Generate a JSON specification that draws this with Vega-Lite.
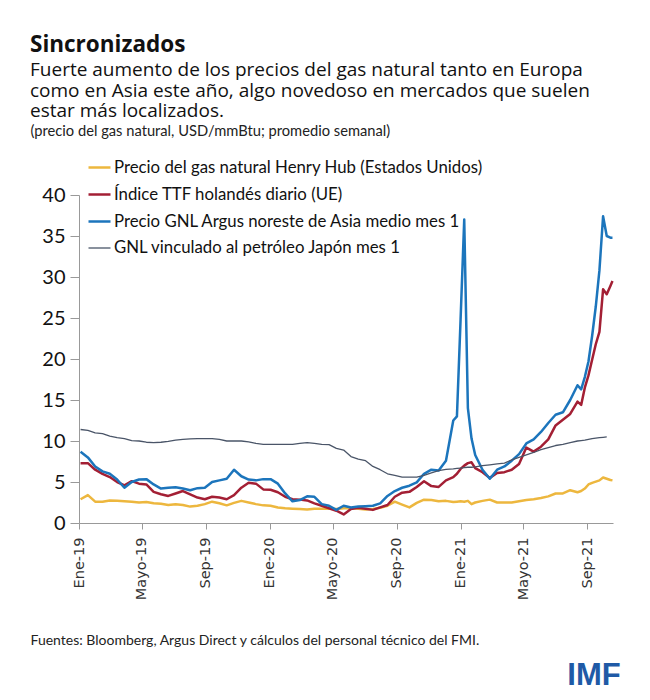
{
  "$schema": "https://vega.github.io/schema/vega-lite/v6.json",
  "background": "white",
  "padding": {"left": 30, "top": 33, "right": 20, "bottom": 5},
  "title": {
    "text": "Sincronizados",
    "subtitle": [
      "Fuerte aumento de los precios del gas natural tanto en Europa",
      "como en Asia este año, algo novedoso en mercados que suelen",
      "estar más localizados."
    ],
    "anchor": "start",
    "frame": "bounds",
    "font": "Open Sans",
    "fontSize": 22.5,
    "fontWeight": "bold",
    "color": "#111111",
    "subtitleFont": "Open Sans",
    "subtitleFontSize": 19,
    "subtitleColor": "#111111",
    "subtitleLineHeight": 20.5,
    "subtitlePadding": 5,
    "offset": 2
  },
  "config": {
    "view": {"stroke": null},
    "legend": {
      "orient": "none",
      "legendX": 8,
      "legendY": -40,
      "padding": 0,
      "symbolType": "stroke",
      "symbolSize": 484,
      "labelFont": "Lato",
      "labelFontSize": 16.8,
      "labelColor": "#111111",
      "labelOffset": 2,
      "labelLimit": 0,
      "rowPadding": 5,
      "title": null
    }
  },
  "vconcat": [
    {
      "width": 534,
      "height": 328,
      "title": {
        "text": "IMF",
        "orient": "bottom",
        "anchor": "end",
        "frame": "bounds",
        "font": "Liberation Sans",
        "fontWeight": "bold",
        "fontSize": 31,
        "color": "#1F5AA6",
        "offset": 14,
        "dx": 7
      },
      "data": {
        "values": [
          {"d": "2019-01-04", "hh": 2.9, "ttf": 7.3, "ar": 8.7, "jp": 11.4},
          {"d": "2019-01-18", "hh": 3.4, "ttf": 7.3, "ar": 8.0, "jp": 11.3},
          {"d": "2019-02-01", "hh": 2.6, "ttf": 6.5, "ar": 6.9, "jp": 11.0},
          {"d": "2019-02-15", "hh": 2.6, "ttf": 6.0, "ar": 6.3, "jp": 10.9},
          {"d": "2019-03-01", "hh": 2.75, "ttf": 5.6, "ar": 6.0, "jp": 10.6},
          {"d": "2019-03-15", "hh": 2.7, "ttf": 5.0, "ar": 5.3, "jp": 10.4},
          {"d": "2019-03-29", "hh": 2.65, "ttf": 4.6, "ar": 4.3, "jp": 10.3},
          {"d": "2019-04-12", "hh": 2.6, "ttf": 5.1, "ar": 5.0, "jp": 10.05},
          {"d": "2019-04-26", "hh": 2.5, "ttf": 4.8, "ar": 5.3, "jp": 10.0},
          {"d": "2019-05-10", "hh": 2.55, "ttf": 4.7, "ar": 5.35, "jp": 9.85},
          {"d": "2019-05-24", "hh": 2.4, "ttf": 3.8, "ar": 4.7, "jp": 9.8},
          {"d": "2019-06-07", "hh": 2.35, "ttf": 3.5, "ar": 4.2, "jp": 9.85},
          {"d": "2019-06-21", "hh": 2.2, "ttf": 3.3, "ar": 4.3, "jp": 9.95},
          {"d": "2019-07-05", "hh": 2.3, "ttf": 3.6, "ar": 4.35, "jp": 10.1},
          {"d": "2019-07-19", "hh": 2.2, "ttf": 3.9, "ar": 4.2, "jp": 10.2},
          {"d": "2019-08-02", "hh": 2.0, "ttf": 3.5, "ar": 4.0, "jp": 10.25},
          {"d": "2019-08-16", "hh": 2.1, "ttf": 3.1, "ar": 4.25, "jp": 10.3},
          {"d": "2019-08-30", "hh": 2.3, "ttf": 2.9, "ar": 4.3, "jp": 10.3},
          {"d": "2019-09-13", "hh": 2.6, "ttf": 3.2, "ar": 5.0, "jp": 10.3},
          {"d": "2019-09-27", "hh": 2.4, "ttf": 3.1, "ar": 5.2, "jp": 10.2},
          {"d": "2019-10-11", "hh": 2.15, "ttf": 2.9, "ar": 5.4, "jp": 10.0},
          {"d": "2019-10-25", "hh": 2.45, "ttf": 3.4, "ar": 6.5, "jp": 10.0},
          {"d": "2019-11-08", "hh": 2.7, "ttf": 4.3, "ar": 5.7, "jp": 10.0},
          {"d": "2019-11-22", "hh": 2.5, "ttf": 4.9, "ar": 5.3, "jp": 9.9},
          {"d": "2019-12-06", "hh": 2.3, "ttf": 4.8, "ar": 5.2, "jp": 9.7},
          {"d": "2019-12-20", "hh": 2.15, "ttf": 4.1, "ar": 5.35, "jp": 9.6},
          {"d": "2020-01-03", "hh": 2.1, "ttf": 4.05, "ar": 5.35, "jp": 9.6},
          {"d": "2020-01-17", "hh": 1.9, "ttf": 3.75, "ar": 4.8, "jp": 9.6},
          {"d": "2020-01-31", "hh": 1.8, "ttf": 3.2, "ar": 3.6, "jp": 9.6},
          {"d": "2020-02-14", "hh": 1.75, "ttf": 2.9, "ar": 2.65, "jp": 9.6},
          {"d": "2020-02-28", "hh": 1.7, "ttf": 2.85, "ar": 2.8, "jp": 9.7},
          {"d": "2020-03-13", "hh": 1.65, "ttf": 2.75, "ar": 3.25, "jp": 9.8},
          {"d": "2020-03-27", "hh": 1.75, "ttf": 2.4, "ar": 3.2, "jp": 9.7},
          {"d": "2020-04-10", "hh": 1.75, "ttf": 2.1, "ar": 2.3, "jp": 9.6},
          {"d": "2020-04-24", "hh": 1.75, "ttf": 1.8, "ar": 2.1, "jp": 9.55},
          {"d": "2020-05-08", "hh": 1.7, "ttf": 1.5, "ar": 1.6, "jp": 9.1},
          {"d": "2020-05-22", "hh": 1.8, "ttf": 1.05, "ar": 2.1, "jp": 8.9},
          {"d": "2020-06-05", "hh": 1.8, "ttf": 1.7, "ar": 1.9, "jp": 8.1},
          {"d": "2020-06-19", "hh": 1.75, "ttf": 1.85, "ar": 2.0, "jp": 7.8},
          {"d": "2020-07-03", "hh": 1.65, "ttf": 1.75, "ar": 2.05, "jp": 7.6},
          {"d": "2020-07-17", "hh": 1.7, "ttf": 1.6, "ar": 2.1, "jp": 6.9},
          {"d": "2020-07-31", "hh": 1.85, "ttf": 1.9, "ar": 2.4, "jp": 6.5},
          {"d": "2020-08-14", "hh": 2.1, "ttf": 2.2, "ar": 3.3, "jp": 6.0},
          {"d": "2020-08-28", "hh": 2.6, "ttf": 3.2, "ar": 3.9, "jp": 5.8},
          {"d": "2020-09-11", "hh": 2.25, "ttf": 3.7, "ar": 4.3, "jp": 5.6},
          {"d": "2020-09-25", "hh": 1.9, "ttf": 3.8, "ar": 4.55, "jp": 5.6},
          {"d": "2020-10-09", "hh": 2.45, "ttf": 4.4, "ar": 4.95, "jp": 5.6},
          {"d": "2020-10-23", "hh": 2.85, "ttf": 5.1, "ar": 6.0, "jp": 5.8},
          {"d": "2020-11-06", "hh": 2.8, "ttf": 4.5, "ar": 6.5, "jp": 6.1},
          {"d": "2020-11-20", "hh": 2.65, "ttf": 4.4, "ar": 6.4, "jp": 6.4},
          {"d": "2020-12-04", "hh": 2.7, "ttf": 5.2, "ar": 7.6, "jp": 6.55},
          {"d": "2020-12-18", "hh": 2.55, "ttf": 5.6, "ar": 12.5, "jp": 6.6},
          {"d": "2020-12-25", "hh": 2.6, "ttf": 6.0, "ar": 13.0, "jp": 6.65},
          {"d": "2021-01-01", "hh": 2.65, "ttf": 6.6, "ar": 24.8, "jp": 6.7},
          {"d": "2021-01-08", "hh": 2.6, "ttf": 7.0, "ar": 37.0, "jp": 6.75},
          {"d": "2021-01-15", "hh": 2.7, "ttf": 7.3, "ar": 14.0, "jp": 6.8},
          {"d": "2021-01-22", "hh": 2.3, "ttf": 7.4, "ar": 10.3, "jp": 6.8},
          {"d": "2021-01-29", "hh": 2.5, "ttf": 6.7, "ar": 8.3, "jp": 6.85},
          {"d": "2021-02-12", "hh": 2.7, "ttf": 6.2, "ar": 6.5, "jp": 7.0},
          {"d": "2021-02-26", "hh": 2.85, "ttf": 5.5, "ar": 5.4, "jp": 7.1},
          {"d": "2021-03-12", "hh": 2.5, "ttf": 6.1, "ar": 6.5, "jp": 7.2},
          {"d": "2021-03-26", "hh": 2.5, "ttf": 6.2, "ar": 6.9, "jp": 7.3},
          {"d": "2021-04-09", "hh": 2.5, "ttf": 6.5, "ar": 7.6, "jp": 7.7},
          {"d": "2021-04-23", "hh": 2.65, "ttf": 7.2, "ar": 8.4, "jp": 8.0},
          {"d": "2021-05-07", "hh": 2.8, "ttf": 9.2, "ar": 9.7, "jp": 8.3},
          {"d": "2021-05-21", "hh": 2.9, "ttf": 8.7, "ar": 10.2, "jp": 8.6},
          {"d": "2021-06-04", "hh": 3.05, "ttf": 9.3, "ar": 11.1, "jp": 8.95},
          {"d": "2021-06-18", "hh": 3.25, "ttf": 10.2, "ar": 12.2, "jp": 9.2},
          {"d": "2021-07-02", "hh": 3.6, "ttf": 11.9, "ar": 13.2, "jp": 9.45},
          {"d": "2021-07-16", "hh": 3.6, "ttf": 12.6, "ar": 13.5, "jp": 9.6},
          {"d": "2021-07-30", "hh": 4.0, "ttf": 13.3, "ar": 15.0, "jp": 9.8},
          {"d": "2021-08-13", "hh": 3.75, "ttf": 14.8, "ar": 16.8, "jp": 10.0},
          {"d": "2021-08-20", "hh": 3.9, "ttf": 14.4, "ar": 16.3, "jp": 10.05},
          {"d": "2021-08-27", "hh": 4.2, "ttf": 16.5, "ar": 17.8, "jp": 10.1},
          {"d": "2021-09-03", "hh": 4.7, "ttf": 18.0, "ar": 19.7, "jp": 10.2},
          {"d": "2021-09-10", "hh": 4.9, "ttf": 19.9, "ar": 22.8, "jp": 10.3},
          {"d": "2021-09-17", "hh": 5.05, "ttf": 21.8, "ar": 26.4, "jp": 10.35},
          {"d": "2021-09-24", "hh": 5.2, "ttf": 23.3, "ar": 30.8, "jp": 10.4},
          {"d": "2021-10-01", "hh": 5.55, "ttf": 28.5, "ar": 37.4, "jp": 10.45},
          {"d": "2021-10-08", "hh": 5.4, "ttf": 27.9, "ar": 35.0, "jp": 10.5},
          {"d": "2021-10-15", "hh": 5.25, "ttf": 28.9, "ar": 34.8, "jp": null},
          {"d": "2021-10-19", "hh": 5.2, "ttf": 29.5, "ar": 34.8, "jp": null}
        ]
      },
      "transform": [{"fold": ["hh", "ttf", "ar", "jp"], "as": ["serie", "valor"]}],
      "mark": {"type": "line", "strokeJoin": "round"},
      "encoding": {
        "x": {
          "field": "d",
          "type": "temporal",
          "scale": {"type": "utc", "domain": [{"year": 2019, "month": 1, "date": 1, "utc": true}, {"year": 2021, "month": 10, "date": 20, "utc": true}]},
          "axis": {
            "values": [
              {"year": 2019, "month": 1, "date": 1, "utc": true},
              {"year": 2019, "month": 5, "date": 1, "utc": true},
              {"year": 2019, "month": 9, "date": 1, "utc": true},
              {"year": 2020, "month": 1, "date": 1, "utc": true},
              {"year": 2020, "month": 5, "date": 1, "utc": true},
              {"year": 2020, "month": 9, "date": 1, "utc": true},
              {"year": 2021, "month": 1, "date": 1, "utc": true},
              {"year": 2021, "month": 5, "date": 1, "utc": true},
              {"year": 2021, "month": 9, "date": 1, "utc": true}
            ],
            "labelExpr": "(utcmonth(datum.value) == 0 ? 'Ene' : utcmonth(datum.value) == 4 ? 'Mayo' : 'Sep') + '-' + utcFormat(datum.value, '%y')",
            "labelAngle": 270,
            "labelFont": "DejaVu Sans",
            "labelFontSize": 14.5,
            "labelColor": "#333333",
            "labelPadding": 8,
            "tickSize": 6,
            "tickColor": "#999999",
            "domainColor": "#999999",
            "grid": false,
            "title": "Fuentes: Bloomberg, Argus Direct y cálculos del personal técnico del FMI.",
            "titleFont": "Lato",
            "titleFontSize": 14,
            "titleFontWeight": "normal",
            "titleColor": "#222222",
            "titleAlign": "left",
            "titleAnchor": "start",
            "titleBaseline": "alphabetic",
            "titleX": -49,
            "titleY": 121
          }
        },
        "y": {
          "field": "valor",
          "type": "quantitative",
          "scale": {"domain": [0, 40]},
          "axis": {
            "values": [0, 5, 10, 15, 20, 25, 30, 35, 40],
            "labelFont": "Lato",
            "labelFontSize": 20,
            "labelColor": "#111111",
            "labelPadding": 5,
            "tickSize": 9,
            "tickColor": "#999999",
            "domainColor": "#999999",
            "grid": false,
            "title": "(precio del gas natural, USD/mmBtu; promedio semanal)",
            "titleAngle": 0,
            "titleAlign": "left",
            "titleAnchor": "start",
            "titleBaseline": "alphabetic",
            "titleX": -49,
            "titleY": -60,
            "titleFont": "Lato",
            "titleFontSize": 14.7,
            "titleFontWeight": "normal",
            "titleColor": "#222222"
          }
        },
        "color": {
          "field": "serie",
          "type": "nominal",
          "scale": {"domain": ["hh", "ttf", "ar", "jp"], "range": ["#EDB73E", "#A31F34", "#1C75BC", "#4A5568"]},
          "legend": {
            "labelExpr": "datum.label == 'hh' ? 'Precio del gas natural Henry Hub (Estados Unidos)' : datum.label == 'ttf' ? 'Índice TTF holandés diario (UE)' : datum.label == 'ar' ? 'Precio GNL Argus noreste de Asia medio mes 1' : 'GNL vinculado al petróleo Japón mes 1'"
          }
        },
        "strokeWidth": {
          "field": "serie",
          "type": "nominal",
          "scale": {"type": "ordinal", "domain": ["hh", "ttf", "ar", "jp"], "range": [2.5, 2.5, 2.5, 1.3]},
          "legend": {
            "labelExpr": "datum.label == 'hh' ? 'Precio del gas natural Henry Hub (Estados Unidos)' : datum.label == 'ttf' ? 'Índice TTF holandés diario (UE)' : datum.label == 'ar' ? 'Precio GNL Argus noreste de Asia medio mes 1' : 'GNL vinculado al petróleo Japón mes 1'"
          }
        }
      }
    }
  ]
}
